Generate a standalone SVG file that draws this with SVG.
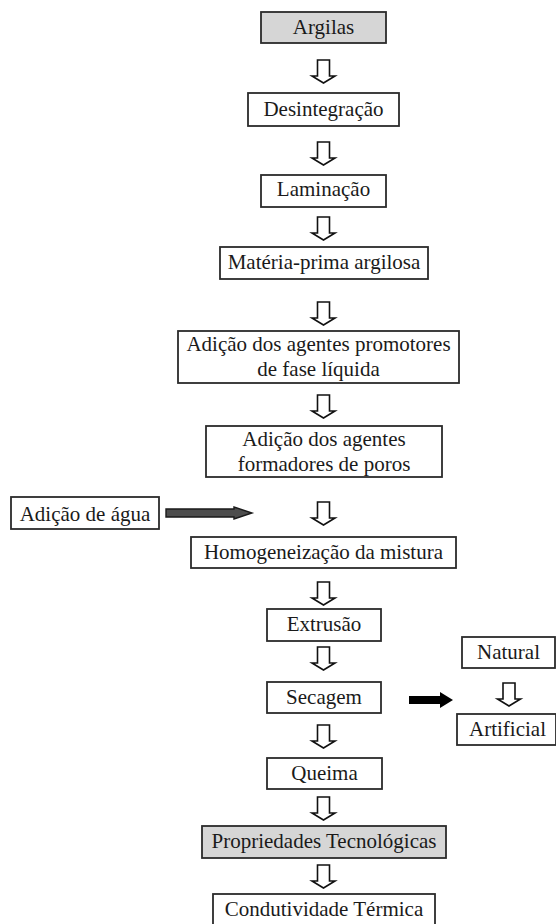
<svg xmlns="http://www.w3.org/2000/svg" xmlns:xlink="http://www.w3.org/1999/xlink" width="556" height="924" viewBox="0 0 556 924">
<style>
.box{fill:#ffffff;stroke:#2b2b2b;stroke-width:1.8}
.gray{fill:#d6d6d6}
.t{font-family:'Liberation Serif','DejaVu Serif','Times New Roman',serif;font-size:21px;fill:#1a1a1a;text-anchor:middle}
.ha{fill:#ffffff;stroke:#111;stroke-width:1.6;stroke-linejoin:miter}
</style>
<defs>
<path id="harrow" d="M-6,0 H6 V16 H11.5 L0,23 L-11.5,16 H-6 Z"/>
</defs>
<rect width="556" height="924" fill="#ffffff"/>
<g id="connectors">
<use xlink:href="#harrow" class="ha" x="323.5" y="60"/>
<use xlink:href="#harrow" class="ha" x="323.5" y="142"/>
<use xlink:href="#harrow" class="ha" x="323.5" y="217"/>
<use xlink:href="#harrow" class="ha" x="323.5" y="302"/>
<use xlink:href="#harrow" class="ha" x="323.5" y="395"/>
<use xlink:href="#harrow" class="ha" x="323.5" y="502"/>
<use xlink:href="#harrow" class="ha" x="323.5" y="582"/>
<use xlink:href="#harrow" class="ha" x="323.5" y="647"/>
<use xlink:href="#harrow" class="ha" x="323.5" y="725"/>
<use xlink:href="#harrow" class="ha" x="323.5" y="797"/>
<use xlink:href="#harrow" class="ha" x="323.5" y="865"/>
<use xlink:href="#harrow" class="ha" x="509" y="683"/>
<path d="M166,509 H234 V507 L252,513 L234,519 V517 H166 Z" fill="#4d4d4d" stroke="#1a1a1a" stroke-width="1.4"/>
<path d="M409,696 H440 V692 L453,700 L440,708 V704 H409 Z" fill="#000000"/>
</g>
<g class="t" font-family="Liberation Serif, serif" font-size="21">
<g id="argilas"><rect class="box gray" x="261" y="12" width="125" height="31"/><text class="t" x="323.5" y="34">Argilas</text></g>
<g id="desintegracao"><rect class="box" x="248" y="93" width="151" height="33"/><text class="t" x="323.5" y="116">Desintegração</text></g>
<g id="laminacao"><rect class="box" x="261" y="175" width="125" height="32"/><text class="t" x="323.5" y="196">Laminação</text></g>
<g id="materia-prima"><rect class="box" x="220" y="247" width="208" height="32"/><text class="t" x="324" y="269">Matéria-prima argilosa</text></g>
<g id="promotores"><rect class="box" x="178" y="331" width="281" height="52"/><text class="t" x="318.5" y="351">Adição dos agentes promotores</text><text class="t" x="318.5" y="376">de fase líquida</text></g>
<g id="formadores"><rect class="box" x="206" y="426" width="236" height="51"/><text class="t" x="324" y="446">Adição dos agentes</text><text class="t" x="324" y="471">formadores de poros</text></g>
<g id="agua"><rect class="box" x="11" y="497" width="148" height="32"/><text class="t" x="85" y="521">Adição de água</text></g>
<g id="homogeneizacao"><rect class="box" x="191" y="537" width="265" height="31"/><text class="t" x="323.5" y="559">Homogeneização da mistura</text></g>
<g id="extrusao"><rect class="box" x="267" y="609" width="114" height="32"/><text class="t" x="324" y="631">Extrusão</text></g>
<g id="secagem"><rect class="box" x="267" y="682" width="114" height="31"/><text class="t" x="324" y="704">Secagem</text></g>
<g id="natural"><rect class="box" x="462" y="637" width="93" height="31"/><text class="t" x="508.5" y="659">Natural</text></g>
<g id="artificial"><rect class="box" x="457" y="714" width="99" height="31"/><text class="t" x="507.5" y="736">Artificial</text></g>
<g id="queima"><rect class="box" x="267" y="758" width="115" height="31"/><text class="t" x="324.5" y="780">Queima</text></g>
<g id="propriedades"><rect class="box gray" x="202" y="826" width="244" height="32"/><text class="t" x="324" y="848">Propriedades Tecnológicas</text></g>
<g id="condutividade"><rect class="box" x="213" y="894" width="222" height="34"/><text class="t" x="324" y="916">Condutividade Térmica</text></g>
</g>
</svg>
